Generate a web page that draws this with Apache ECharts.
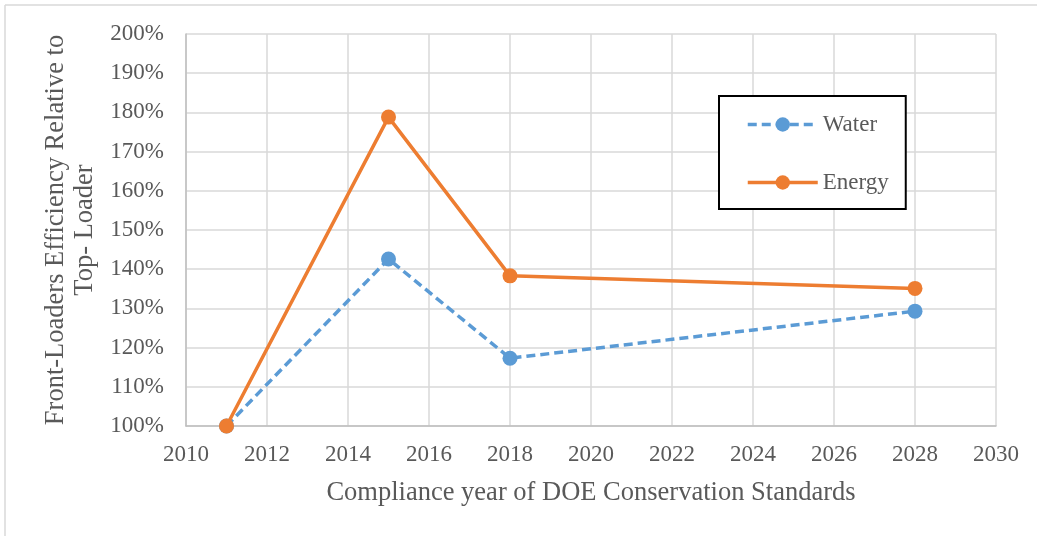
<!DOCTYPE html>
<html>
<head>
<meta charset="utf-8">
<script src="https://cdn.jsdelivr.net/npm/echarts@6/dist/echarts.min.js"></script>
<style>
  html, body { margin: 0; padding: 0; background: #fff; }
  #chart { width: 1037px; height: 536px; }
</style>
</head>
<body>
<div id="chart"></div>
<script>
// Compliance years and front-loader efficiency ratios (1.0 = 100%)
const years = [2011, 2015, 2018, 2028];
const waterRatio = [1.00, 1.426, 1.173, 1.293];
const energyRatio = [1.00, 1.788, 1.383, 1.351];

const serif = '"Liberation Serif", "Times New Roman", serif';
const textGray = '#595959';

const chart = echarts.init(document.getElementById('chart'));

const pairs = (xs, ys) => xs.map((x, i) => [x, ys[i]]);

chart.setOption({
  animation: false,
  backgroundColor: '#ffffff',
  graphic: [
    { type: 'line', shape: { x1: 5, y1: 5, x2: 1037, y2: 5 }, style: { stroke: '#d9d9d9', lineWidth: 1.5 } },
    { type: 'line', shape: { x1: 5, y1: 5, x2: 5, y2: 536 }, style: { stroke: '#d9d9d9', lineWidth: 1.5 } }
  ],
  grid: { left: 186, right: 41, top: 34, bottom: 110 },
  xAxis: {
    type: 'value',
    min: 2010,
    max: 2030,
    interval: 2,
    name: 'Compliance year of DOE Conservation Standards',
    nameLocation: 'middle',
    nameGap: 54,
    nameTextStyle: { fontFamily: serif, fontSize: 26.5, color: textGray },
    axisLine: { show: true, lineStyle: { color: '#bfbfbf', width: 1.5 } },
    axisTick: { show: false },
    axisLabel: {
      fontFamily: serif, fontSize: 23, color: textGray, margin: 17,
      formatter: v => String(v)
    },
    splitLine: { show: true, lineStyle: { color: '#d9d9d9', width: 1.5 } }
  },
  yAxis: {
    type: 'value',
    min: 1,
    max: 2,
    interval: 0.1,
    name: 'Front-Loaders Efficiency Relative to\nTop- Loader',
    nameLocation: 'middle',
    nameGap: 84,
    nameTextStyle: { fontFamily: serif, fontSize: 26.5, color: textGray, lineHeight: 29 },
    axisLine: { show: true, lineStyle: { color: '#bfbfbf', width: 1.5 } },
    axisTick: { show: false },
    axisLabel: {
      fontFamily: serif, fontSize: 23, color: textGray, margin: 22,
      formatter: v => Math.round(v * 100) + '%'
    },
    splitLine: { show: true, lineStyle: { color: '#d9d9d9', width: 1.5 } }
  },
  legend: {
    orient: 'vertical',
    left: 719,
    top: 96,
    padding: [17, 17, 15, 27],
    itemGap: 35,
    itemWidth: 70,
    itemHeight: 18,
    borderColor: '#000000',
    borderWidth: 2,
    backgroundColor: '#ffffff',
    lineStyle: { width: 3.5 },
    textStyle: { fontFamily: serif, fontSize: 23, color: textGray },
    data: ['Water', 'Energy']
  },
  series: [
    {
      name: 'Water',
      type: 'line',
      data: pairs(years, waterRatio),
      symbol: 'circle',
      symbolSize: 15,
      itemStyle: { color: '#5b9bd5' },
      lineStyle: { color: '#5b9bd5', width: 3.5, type: [9, 5] },
      z: 3
    },
    {
      name: 'Energy',
      type: 'line',
      data: pairs(years, energyRatio),
      symbol: 'circle',
      symbolSize: 15,
      itemStyle: { color: '#ed7d31' },
      lineStyle: { color: '#ed7d31', width: 3.5 },
      z: 4
    }
  ]
});
</script>
</body>
</html>
